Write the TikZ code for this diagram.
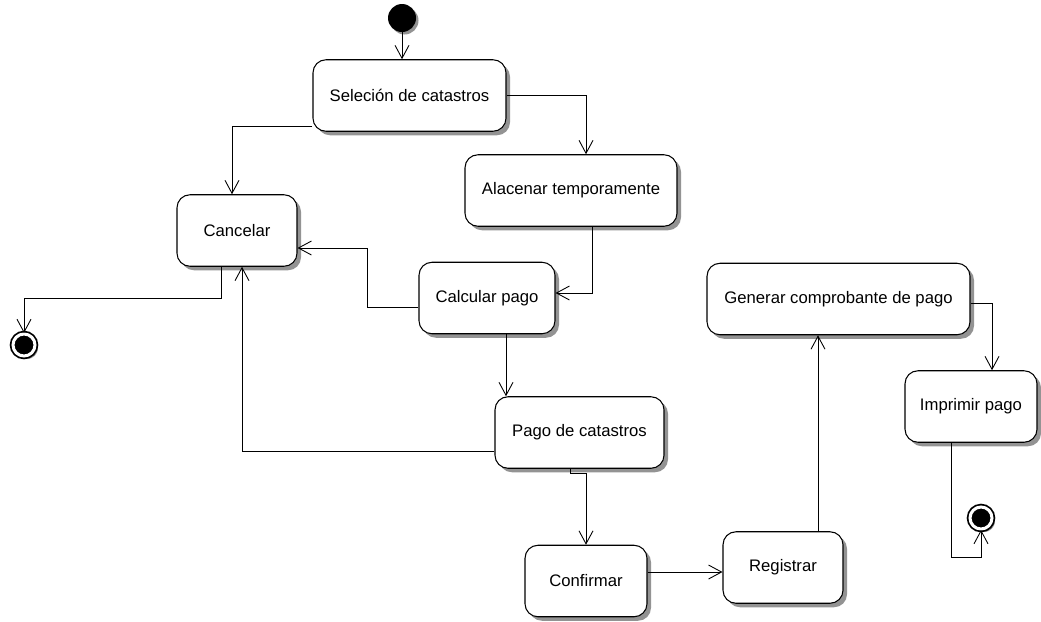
\documentclass[tikz,border=0pt]{standalone}
\usepackage{fontspec}
\setmainfont{Liberation Sans}
\usetikzlibrary{arrows.meta,shadows}
\definecolor{shadow_gray}{RGB}{120,120,120}

\begin{document}
\begin{tikzpicture}[x=0.2mm, y=-0.2mm,
    act/.style={draw, rounded corners=2.6mm, fill=white, line width=0.6pt,
        minimum height=14.3mm, font=\fontsize{9.5}{11}\selectfont,
        drop shadow={shadow xshift=0.8mm, shadow yshift=-0.8mm, fill=shadow_gray, opacity=0.8}},
    flow/.style={line width=0.5pt, -{Straight Barb[length=2.6mm, width=2.8mm]}},
    initial/.style={circle, fill=black, minimum size=5.6mm, inner sep=0pt,
        drop shadow={shadow xshift=0.5mm, shadow yshift=-0.5mm, fill=shadow_gray, opacity=0.8}},
    final/.style={circle, draw, fill=black, line width=1pt, double=white, double distance=0.6mm,
        minimum size=4.4mm, inner sep=0pt,
        drop shadow={shadow xshift=0.6mm, shadow yshift=-0.6mm, fill=shadow_gray, opacity=0.8}}]
    \useasboundingbox (0,0) rectangle (1041,621);

    % Start and end points
    \node[initial] (ini) at (402,18) {};
    \node[final] (fin1) at (24,345) {};
    \node[final] (fin2) at (981,518) {};

    % Activities
    \node[act, minimum width=38.6mm] (sel) at (409.5,95.5) {Seleción de catastros};
    \node[act, minimum width=42.4mm] (alm) at (571,190.5) {Alacenar temporamente};
    \node[act, minimum width=24mm] (can) at (237,230.5) {Cancelar};
    \node[act, minimum width=27.2mm] (calc) at (487,298) {Calcular pago};
    \node[act, minimum width=33.8mm] (pago) at (579.5,432.5) {Pago de catastros};
    \node[act, minimum width=24.4mm] (conf) at (586,581) {Confirmar};
    \node[act, minimum width=24mm] (reg) at (783,567.5) {Registrar};
    \node[act, minimum width=52.6mm] (gen) at (838.5,299) {Generar comprobante de pago};
    \node[act, minimum width=26.4mm] (imp) at (971,406.5) {Imprimir pago};

    % Transitions
    \draw[flow] (ini) -- (ini |- sel.north);
    \draw[flow] (sel.east) -| ([xshift=3mm]alm.north);
    \draw[flow] ([yshift=1mm]sel.south west) -| ([xshift=-1mm]can.north);
    \draw[flow] ([xshift=4.2mm]alm.south) |- ([yshift=1mm]calc.east);
    \draw[flow] ([yshift=-1.8mm]calc.west) -- ++(-51,0) |- ([yshift=-3.5mm]can.east);
    \draw[flow] ([xshift=3.8mm]calc.south) -- ([xshift=3.8mm]calc.south |- pago.north);
    \draw[flow] ([yshift=-3.7mm]pago.west) -| ([xshift=1mm]can.south);
    \draw[flow] ([xshift=-1.8mm]pago.south) -- ++(0,5) -| (conf.north);
    \draw[flow] ([yshift=1.8mm]conf.east) -- ([yshift=1.8mm]conf.east -| reg.west);
    \draw[flow] ([xshift=7mm]reg.north) -- ([xshift=7mm]reg.north |- gen.south);
    \draw[flow] ([yshift=-0.8mm]gen.east) -| ([xshift=4.2mm]imp.north);
    \draw[flow] ([xshift=-3.2mm]can.south) -- ++(0,32) -| (fin1.north);
    \draw[flow] ([xshift=-4mm]imp.south) -- ++(0,115) -| (fin2.south);
\end{tikzpicture}
\end{document}
